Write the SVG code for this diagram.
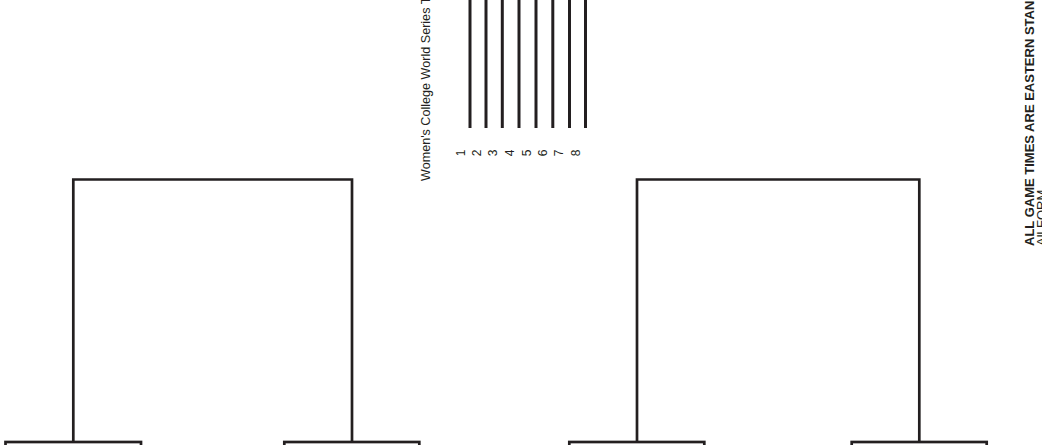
<svg xmlns="http://www.w3.org/2000/svg" width="1042" height="445" viewBox="0 0 1042 445">
<style>
.ln{stroke:#231f20;stroke-width:2.7;fill:none;stroke-linecap:square}
.bar{stroke:#231f20;stroke-width:3;fill:none}
.box{stroke:#231f20;stroke-width:2.7;fill:#fff}
.t{font-family:"Liberation Sans",Arial,sans-serif;fill:#231f20}
</style>
<rect width="1042" height="445" fill="#fff"/>
<g id="connectors">
<path class="ln" d="M73.3,442 V179.5 H352 V442"/>
<path class="ln" d="M637,442 V179.5 H919.3 V442"/>
</g>
<g id="box1"><rect class="box" x="5.5" y="442" width="135.5" height="20"/></g>
<g id="box2"><rect class="box" x="284.3" y="442" width="135" height="20"/></g>
<g id="box3"><rect class="box" x="569.3" y="442" width="135" height="20"/></g>
<g id="box4"><rect class="box" x="851.7" y="442" width="135" height="20"/></g>
<g id="legend-lines">
<line class="bar" x1="470" y1="0" x2="470" y2="128"/>
<line class="bar" x1="486" y1="0" x2="486" y2="128"/>
<line class="bar" x1="502.3" y1="0" x2="502.3" y2="128"/>
<line class="bar" x1="519" y1="0" x2="519" y2="128"/>
<line class="bar" x1="536" y1="0" x2="536" y2="128"/>
<line class="bar" x1="552.8" y1="0" x2="552.8" y2="128"/>
<line class="bar" x1="569.5" y1="0" x2="569.5" y2="128"/>
<line class="bar" x1="585.5" y1="0" x2="585.5" y2="128"/>
</g>
<g id="legend-numbers" class="t" font-size="12" text-anchor="middle">
<text transform="translate(465,153) rotate(-90)">1</text>
<text transform="translate(481,153) rotate(-90)">2</text>
<text transform="translate(497,153) rotate(-90)">3</text>
<text transform="translate(513.5,153) rotate(-90)">4</text>
<text transform="translate(530.5,153) rotate(-90)">5</text>
<text transform="translate(547,153) rotate(-90)">6</text>
<text transform="translate(563,153) rotate(-90)">7</text>
<text transform="translate(580,153) rotate(-90)">8</text>
</g>
<g id="title">
<text class="t" font-size="12.6" transform="translate(429.5,181) rotate(-90)">Women's College World Series T</text>
</g>
<g id="note">
<text class="t" font-size="13" font-weight="bold" transform="translate(1033.5,246) rotate(-90)">ALL GAME TIMES ARE EASTERN STAN</text>
<text class="t" font-size="13" transform="translate(1045.5,246) rotate(-90)">All FORM</text>
</g>
</svg>
